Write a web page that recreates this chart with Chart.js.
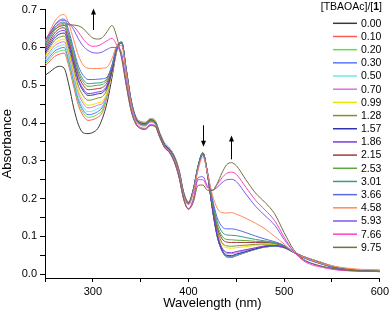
<!DOCTYPE html>
<html>
<head>
<meta charset="utf-8">
<script src="https://cdn.jsdelivr.net/npm/chart.js@4.4.1/dist/chart.umd.min.js"></script>
<style>
  html, body { margin: 0; background: #fff; }
</style>
</head>
<body>
<canvas id="uv" width="392" height="313"></canvas>
<script>
// wavelength grid (nm)
const wavelength = [250,255,260,265,270,275,280,285,290,295, 300,305,310,315,320,325,330,335,340,345,
  350,355,360,365,370,375,380,385,390,395, 400,405,410,415,420,425,430,435,440,445,
  450,460,470,480,490,500,510,520,530,540, 550,560,580,600];

// [TBAOAc]/[1] ratios
const ratios = ['0.00','0.10','0.20','0.30','0.50','0.70','0.99','1.28','1.57','1.86','2.15','2.53','3.01','3.66','4.58','5.93','7.66','9.75'];

// absorbance, one array per ratio
const abs000 = [.526,.535,.545,.550,.545,.500,.440,.395,.374,.372, .375,.385,.412,.455,.520,.590,.612,.540,.460,.415, .402,.400,.410,.405,.372,.345,.332,.312,.275,.215, .190,.223,.285,.320,.262,.172,.100,.062,.046,.045, .049,.058,.066,.072,.074,.070,.058,.047,.038,.030, .022,.016,.010,.008];
const abs010 = [.550,.564,.576,.582,.585,.549,.496,.446,.419,.407, .409,.415,.428,.471,.535,.597,.615,.540,.460,.415, .403,.401,.411,.406,.373,.346,.333,.313,.276,.216, .190,.224,.286,.321,.262,.173,.100,.062,.046,.045, .049,.058,.066,.072,.074,.070,.058,.047,.038,.030, .022,.016,.010,.008];
const abs020 = [.555,.570,.584,.590,.593,.557,.504,.454,.427,.415, .417,.423,.435,.476,.538,.599,.615,.541,.461,.416, .403,.401,.411,.406,.373,.346,.333,.313,.276,.216, .190,.224,.286,.321,.262,.174,.101,.063,.047,.046, .050,.058,.066,.072,.074,.070,.058,.047,.038,.030, .022,.016,.010,.008];
const abs030 = [.560,.576,.590,.597,.600,.564,.511,.461,.434,.422, .424,.430,.442,.479,.538,.598,.615,.542,.462,.416, .404,.402,.412,.407,.374,.347,.334,.314,.277,.217, .191,.225,.287,.322,.263,.175,.102,.064,.048,.047, .051,.059,.067,.073,.075,.071,.058,.047,.038,.030, .022,.016,.010,.008];
const abs050 = [.565,.582,.597,.604,.607,.572,.518,.468,.442,.430, .432,.438,.445,.478,.535,.597,.615,.542,.462,.417, .404,.402,.412,.407,.374,.347,.334,.314,.277,.217, .191,.225,.287,.322,.263,.176,.104,.066,.050,.049, .053,.060,.068,.073,.075,.071,.058,.047,.038,.030, .022,.016,.010,.008];
const abs070 = [.570,.588,.604,.612,.615,.580,.527,.478,.452,.440, .442,.447,.452,.480,.533,.595,.614,.541,.461,.416, .403,.401,.411,.406,.373,.346,.333,.313,.276,.216, .190,.224,.286,.321,.263,.177,.107,.069,.055,.054, .057,.063,.069,.074,.076,.071,.058,.047,.038,.029, .021,.015,.010,.008];
const abs099 = [.575,.594,.610,.619,.622,.587,.534,.485,.459,.447, .449,.453,.458,.482,.532,.594,.614,.540,.460,.415, .402,.400,.410,.405,.372,.345,.332,.312,.275,.215, .190,.224,.286,.322,.265,.182,.115,.080,.070,.069, .070,.073,.076,.078,.078,.072,.058,.046,.037,.029, .021,.015,.010,.008];
const abs128 = [.580,.600,.618,.627,.630,.596,.545,.497,.472,.460, .462,.466,.470,.490,.535,.595,.614,.539,.459,.414, .401,.399,.409,.404,.371,.344,.331,.311,.274,.214, .189,.223,.285,.321,.265,.183,.118,.084,.075,.074, .075,.077,.079,.080,.080,.073,.058,.046,.037,.029, .021,.015,.010,.008];
const abs157 = [.585,.606,.625,.635,.638,.605,.556,.510,.485,.473, .474,.477,.480,.496,.537,.596,.613,.538,.458,.413, .400,.398,.408,.403,.370,.343,.330,.310,.273,.213, .188,.222,.284,.320,.262,.173,.102,.064,.050,.049, .053,.060,.067,.073,.075,.071,.058,.046,.036,.028, .020,.014,.009,.007];
const abs186 = [.590,.612,.631,.642,.645,.612,.562,.515,.490,.478, .479,.482,.485,.500,.540,.597,.613,.537,.457,.412, .399,.397,.407,.402,.369,.342,.329,.309,.272,.212, .188,.222,.284,.320,.263,.176,.107,.070,.058,.057, .060,.065,.070,.075,.076,.071,.058,.046,.036,.028, .020,.014,.009,.007];
const abs215 = [.595,.618,.638,.649,.652,.619,.570,.525,.500,.488, .489,.491,.494,.507,.545,.598,.613,.537,.457,.412, .399,.397,.407,.402,.369,.342,.329,.309,.272,.212, .188,.222,.284,.320,.266,.186,.125,.094,.085,.084, .084,.084,.084,.084,.082,.074,.058,.045,.036,.028, .020,.014,.009,.007];
const abs253 = [.600,.624,.645,.657,.660,.627,.578,.533,.508,.497, .498,.500,.502,.514,.550,.600,.613,.536,.456,.411, .398,.396,.406,.401,.368,.341,.328,.308,.271,.211, .187,.221,.283,.319,.267,.189,.131,.101,.092,.091, .090,.089,.087,.086,.083,.075,.058,.045,.035,.027, .019,.014,.009,.007];
const abs301 = [.603,.629,.651,.664,.667,.634,.586,.540,.515,.504, .505,.506,.508,.518,.553,.601,.613,.535,.455,.410, .397,.395,.405,.400,.367,.340,.327,.307,.270,.210, .186,.220,.282,.318,.268,.194,.140,.112,.104,.103, .102,.097,.092,.088,.084,.075,.058,.045,.035,.027, .019,.013,.009,.007];
const abs366 = [.607,.634,.658,.672,.675,.643,.595,.550,.526,.515, .515,.516,.517,.522,.552,.600,.612,.534,.454,.409, .396,.394,.404,.399,.366,.339,.326,.306,.269,.209, .185,.219,.280,.316,.268,.200,.150,.126,.120,.120, .118,.110,.101,.093,.086,.076,.058,.044,.034,.026, .019,.013,.009,.007];
const abs458 = [.612,.642,.668,.683,.687,.662,.620,.578,.553,.545, .544,.544,.545,.548,.570,.603,.605,.530,.450,.405, .393,.392,.402,.397,.364,.337,.324,.304,.267,.207, .184,.215,.275,.310,.265,.210,.175,.163,.162,.163, .159,.148,.135,.120,.100,.080,.058,.046,.036,.028, .022,.018,.013,.012];
const abs593 = [.615,.638,.658,.669,.672,.665,.647,.622,.603,.592, .586,.585,.588,.595,.600,.600,.585,.510,.438,.400, .388,.386,.396,.393,.363,.336,.323,.300,.260,.200, .173,.200,.255,.258,.232,.222,.230,.242,.250,.251, .245,.212,.180,.155,.130,.092,.060,.038,.027,.020, .015,.011,.008,.007];
const abs766 = [.618,.638,.653,.661,.664,.662,.655,.640,.622,.608, .603,.604,.610,.618,.624,.606,.575,.500,.434,.398, .386,.384,.394,.392,.362,.335,.322,.298,.258,.198, .172,.195,.250,.250,.228,.222,.237,.255,.267,.270, .264,.230,.196,.170,.142,.098,.060,.036,.024,.018, .013,.010,.008,.007];
const abs975 = [.620,.635,.647,.655,.658,.660,.659,.657,.650,.636, .625,.622,.626,.642,.658,.628,.572,.498,.432,.397, .385,.383,.393,.391,.362,.335,.322,.298,.257,.198, .172,.190,.235,.236,.222,.222,.240,.268,.290,.295, .287,.250,.215,.190,.160,.110,.065,.040,.028,.021, .016,.012,.009,.008];

const spectra = [abs000,abs010,abs020,abs030,abs050,abs070,abs099,abs128,abs157,abs186,abs215,abs253,abs301,abs366,abs458,abs593,abs766,abs975];

// arrows: [wavelength, from absorbance, to absorbance]
const arrows = [[300, 0.646, 0.703], [415, 0.394, 0.337], [444, 0.304, 0.367]];

const colours = ['#3a3a3a','#ff5a5a','#5fe04a','#5a78ff','#70e8e8','#e070e0','#e8e800','#8a8a30','#3030b0',
  '#7a3ad8','#a03a3a','#5aa83a','#3a9a8a','#5a6ae8','#ff8a5a','#7a5af0','#ff40c0','#707040'];

const FONT = '"Liberation Sans", Arial, sans-serif';

const extras = {
  id: 'extras',
  afterDraw(chart) {
    const { ctx, scales: { x, y } } = chart;
    ctx.save();
    ctx.strokeStyle = '#000';
    ctx.fillStyle = '#000';
    ctx.lineWidth = 1;
    arrows.forEach(([wl, from, to]) => {
      const px = Math.round(x.getPixelForValue(wl)) + 0.5;
      const y0 = y.getPixelForValue(from), y1 = y.getPixelForValue(to);
      const dir = Math.sign(y1 - y0);
      ctx.beginPath();
      ctx.moveTo(px, y0);
      ctx.lineTo(px, y1 - dir * 4);
      ctx.stroke();
      ctx.beginPath();
      ctx.moveTo(px, y1);
      ctx.lineTo(px - 2.5, y1 - dir * 6);
      ctx.lineTo(px + 2.5, y1 - dir * 6);
      ctx.closePath();
      ctx.fill();
    });

    // legend
    ctx.textBaseline = 'middle';
    ctx.textAlign = 'left';
    const normal = '10.5px ' + FONT, bold = 'bold 10.5px ' + FONT;
    ctx.font = normal;
    const w1 = ctx.measureText('[TBAOAc]/[').width, w3 = ctx.measureText(']').width;
    ctx.font = bold;
    const w2 = ctx.measureText('1').width;
    let tx = 382 - (w1 + w2 + w3);
    ctx.font = normal; ctx.fillText('[TBAOAc]/[', tx, 7.5);
    ctx.font = bold; ctx.fillText('1', tx + w1, 7.5);
    ctx.font = normal; ctx.fillText(']', tx + w1 + w2, 7.5);

    chart.data.datasets.forEach((ds, i) => {
      const ly = 23.3 + i * 13.18;
      ctx.strokeStyle = ds.borderColor;
      ctx.lineWidth = 1.5;
      ctx.beginPath();
      ctx.moveTo(333, ly);
      ctx.lineTo(357, ly);
      ctx.stroke();
      ctx.fillStyle = '#000';
      ctx.fillText(ds.label, 361, ly + 0.5);
    });
    ctx.restore();
  }
};

new Chart(document.getElementById('uv'), {
  type: 'line',
  data: {
    datasets: spectra.map((vals, i) => ({
      label: ratios[i],
      data: vals.map((v, j) => ({ x: wavelength[j], y: v })),
      borderColor: colours[i],
      borderWidth: 1,
      pointRadius: 0,
      fill: false,
      cubicInterpolationMode: 'monotone',
      order: spectra.length - 1 - i
    }))
  },
  options: {
    responsive: false,
    animation: false,
    layout: { padding: { top: 9, right: 10, left: 0, bottom: 0 } },
    plugins: { legend: { display: false }, tooltip: { enabled: false } },
    scales: {
      x: {
        type: 'linear',
        min: 250, max: 600,
        border: { color: '#000', width: 1 },
        grid: { drawOnChartArea: false, color: '#000', tickLength: 4 },
        ticks: {
          stepSize: 50, autoSkip: false, maxRotation: 0, color: '#000', padding: 3,
          font: { size: 11, family: FONT },
          callback: v => (v % 100 === 0 ? String(v) : '')
        },
        title: { display: true, text: 'Wavelength (nm)', color: '#000', font: { size: 13, family: FONT }, padding: { top: 0, bottom: 2 } },
        afterFit: s => { s.height = 35; }
      },
      y: {
        min: -0.01, max: 0.7,
        border: { color: '#000', width: 1 },
        grid: { drawOnChartArea: false, color: '#000', tickLength: 5 },
        ticks: {
          stepSize: 0.05, includeBounds: false, autoSkip: false, color: '#000', padding: 3,
          font: { size: 11, family: FONT },
          callback: v => (Math.round(v * 100) % 10 === 0 ? v.toFixed(1) : '')
        },
        title: { display: true, text: 'Absorbance', color: '#000', font: { size: 13, family: FONT }, padding: { top: 0, bottom: 0 } },
        afterFit: s => { s.width = 45; }
      }
    }
  },
  plugins: [extras]
});
</script>
</body>
</html>
